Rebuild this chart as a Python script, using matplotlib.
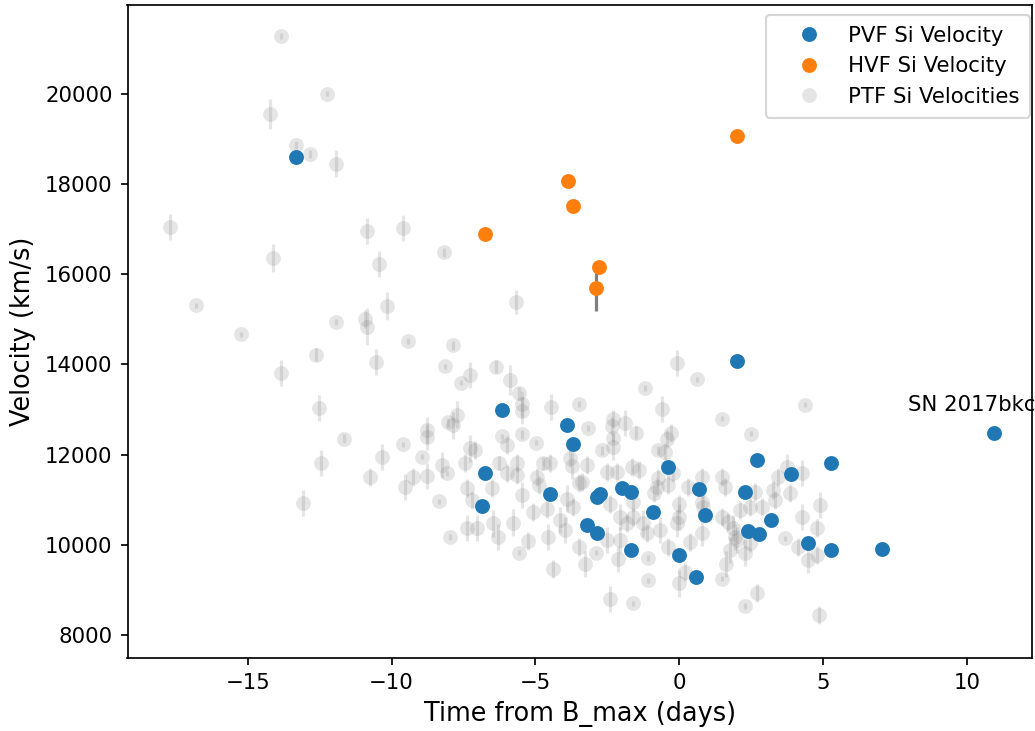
import numpy as np
import matplotlib.pyplot as plt

# PTF silicon velocities (time from B max [d], velocity [km/s], error [km/s])
ptf_t = [-13.83, -12.23, -14.22, -13.33, -12.83, -11.94, -17.71, -10.84, -9.59, -14.12,
         -10.44, -16.81, -15.22, -11.94, -10.93, -10.84, -10.14, -9.42, -12.63, -10.55,
         -13.83, -12.53, -11.64, -9.59, -10.33, -12.44, -7.85, -8.15, -7.27, -6.35,
         -7.57, -5.87, -5.58, -5.46, -5.46, -4.46, -3.47, -1.18, -7.74, -8.04,
         -7.87, -8.75, -8.75, -6.17, -5.97, -5.46, -4.96, -3.18, -2.29, -2.34,
         -1.87, -2.29, -2.29, -1.49, -2.68, -8.95, -8.25, -8.08, -9.24, -8.75,
         -7.44, -7.27, -7.09, -6.26, -5.64, -5.99, -4.72, -4.49, -3.79, -3.73,
         -3.19, -2.52, -2.15, -1.65, -1.38, -0.72, -4.95, -9.53, -8.35, -7.96,
         -7.36, -7.21, -7.36, -7.04, -6.51, -6.46, -6.31, -5.76, -5.26, -5.55,
         -5.64, -5.47, -4.86, -5.07, -4.60, -4.55, -4.37, -4.14, -3.96, -3.91,
         -3.68, -3.47, -3.36, -3.47, -3.28, -2.89, -2.52, -2.40, -2.05, -2.07,
         -2.11, -1.82, -1.59, -1.59, -1.09, -1.09, -2.40, -1.59, -0.89, -1.24,
         -1.12, -0.08, 0.61, -0.58, 4.38, 1.50, 2.49, -0.29, -0.41, -0.49,
         0.79, 1.50, 3.74, 4.26, 3.45, -0.72, -0.20, -0.78, -0.37, 0.32,
         1.60, 0.79, 0.84, 0.01, -0.02, -0.08, -0.66, -0.37, 0.38, 0.79,
         1.48, 1.71, 1.89, 1.95, 2.00, 1.77, 1.63, 1.50, 2.29, 2.47,
         2.12, 2.47, 2.64, 2.87, 3.28, 3.34, 3.86, 4.26, 4.90, 3.68,
         4.15, 4.79, 4.79, 4.49, 0.01, 0.21, 2.70, 2.29, 4.88, -8.16,
         -5.66, -10.74, -13.07]
ptf_v = [21270, 20000, 19540, 18860, 18660, 18450, 17050, 16960, 17030, 16350,
         16220, 15310, 14670, 14940, 15000, 14840, 15290, 14520, 14220, 14060,
         13810, 13040, 12360, 12230, 11950, 11820, 14420, 13960, 13770, 13950,
         13600, 13650, 13360, 13120, 12980, 13050, 13120, 13480, 12890, 12720,
         12650, 12550, 12390, 12410, 12220, 12450, 12270, 12590, 12800, 12640,
         12700, 12380, 12180, 12490, 12100, 11960, 11770, 11590, 11510, 11530,
         11820, 12140, 12100, 11820, 11810, 11590, 11810, 11810, 11920, 11750,
         11770, 11620, 11620, 11730, 11660, 12100, 11510, 11290, 10970, 10180,
         11260, 11000, 10370, 10370, 11260, 10480, 10180, 10500, 10090, 9830,
         11550, 11110, 11330, 10740, 10790, 10180, 9470, 10550, 10330, 11030,
         10850, 11370, 11400, 9950, 9590, 9830, 10110, 10920, 10630, 10110,
         9700, 10480, 10960, 10630, 9710, 9220, 8800, 8710, 11150, 10480,
         10260, 14040, 13670, 13010, 13110, 12800, 12470, 12490, 12340, 12070,
         11510, 11510, 11730, 11590, 11510, 11480, 11590, 11290, 11330, 11290,
         11290, 10960, 10850, 10920, 10630, 10480, 10330, 9960, 10070, 10260,
         10630, 10520, 10370, 10180, 10110, 9890, 9590, 9260, 9820, 10040,
         10770, 10850, 11180, 10850, 11220, 11000, 11150, 10630, 10890, 10150,
         9960, 10370, 9780, 9680, 9150, 9410, 8930, 8650, 8450, 16480,
         15380, 11510, 10930]
ptf_err = [60, 60, 330, 80, 80, 290, 290, 290, 290, 310,
           290, 60, 60, 60, 200, 400, 310, 60, 150, 290,
           290, 290, 100, 60, 290, 290, 100, 60, 290, 150,
           60, 330, 150, 290, 290, 290, 60, 60, 290, 100,
           290, 290, 290, 60, 200, 100, 60, 60, 200, 200,
           290, 100, 290, 150, 100, 60, 290, 60, 200, 290,
           200, 290, 200, 150, 200, 200, 150, 200, 200, 290,
           200, 200, 200, 200, 200, 100, 200, 290, 60, 60,
           200, 200, 290, 290, 200, 290, 290, 290, 200, 60,
           200, 290, 200, 200, 200, 290, 200, 290, 290, 290,
           200, 200, 200, 200, 290, 60, 290, 200, 290, 290,
           290, 200, 200, 200, 60, 60, 290, 60, 200, 290,
           200, 290, 60, 290, 60, 60, 60, 200, 200, 200,
           200, 200, 290, 290, 200, 200, 200, 200, 200, 200,
           200, 290, 290, 200, 290, 290, 290, 200, 200, 290,
           200, 200, 290, 290, 290, 290, 290, 60, 290, 200,
           200, 200, 200, 200, 200, 200, 200, 290, 290, 60,
           200, 200, 200, 290, 290, 200, 200, 60, 200, 100,
           270, 200, 290]

# photospheric velocity feature
pvf_t = [-13.32, 2.02, -6.15, -3.89, -3.69, 10.95, -6.75, -0.38, 2.71, 5.29,
         3.89, -4.49, -2.85, -2.75, -1.98, -1.67, 0.70, 2.29, -6.85, -0.90,
         0.90, 3.20, -3.20, -2.85, 2.40, 2.78, 4.49, -1.67, 0.00, 5.29,
         7.06, 0.59]
pvf_v = [18600, 14080, 12990, 12660, 12240, 12480, 11590, 11730, 11880, 11820,
         11570, 11130, 11060, 11130, 11260, 11170, 11240, 11170, 10860, 10730,
         10660, 10550, 10440, 10270, 10310, 10240, 10040, 9890, 9780, 9890,
         9910, 9290]

# high velocity feature
hvf_t = [2.01, -3.87, -3.68, -6.76, -2.77, -2.88]
hvf_v = [19050, 18060, 17510, 16880, 16150, 15690]
hvf_err = [0, 0, 0, 0, 0, 500]

label_t, label_v = 10.95, 12480

dpi = 153
fig = plt.figure(figsize=(1035 / dpi, 731 / dpi), dpi=dpi)
ax = fig.add_axes([127.5 / 1035, 73 / 731, (1032 - 127.5) / 1035, (726 - 73) / 731])

ax.errorbar(ptf_t, ptf_v, yerr=ptf_err, fmt='none', ecolor='gray', alpha=0.2, zorder=1)
ptf_line, = ax.plot(ptf_t, ptf_v, 'o', color='gray', alpha=0.2, ms=7, mew=0, zorder=1)

pvf_line, = ax.plot(pvf_t, pvf_v, 'o', color='C0', zorder=3)
ax.errorbar(hvf_t, hvf_v, yerr=hvf_err, fmt='none', ecolor='gray', zorder=2)
hvf_line, = ax.plot(hvf_t, hvf_v, 'o', color='C1', zorder=3)

ax.annotate('SN 2017bkc', (label_t - 3, label_v + 500))

ax.legend([pvf_line, hvf_line, ptf_line],
          ['PVF Si Velocity', 'HVF Si Velocity', 'PTF Si Velocities'],
          loc='upper right', numpoints=1, borderaxespad=0,
          bbox_to_anchor=(1 - 2 / 904.5, 1 - 10 / 653),
          handlelength=3.0, handletextpad=0.35, borderpad=0.5, labelspacing=0.5)

ax.set_xlim(-19.18, 12.27)
ax.set_ylim(7500, 21960)
ax.set_xlabel('Time from B_max (days)', fontsize=12)
ax.set_ylabel('Velocity (km/s)', fontsize=12)

fig.savefig('out.png', dpi=dpi)
